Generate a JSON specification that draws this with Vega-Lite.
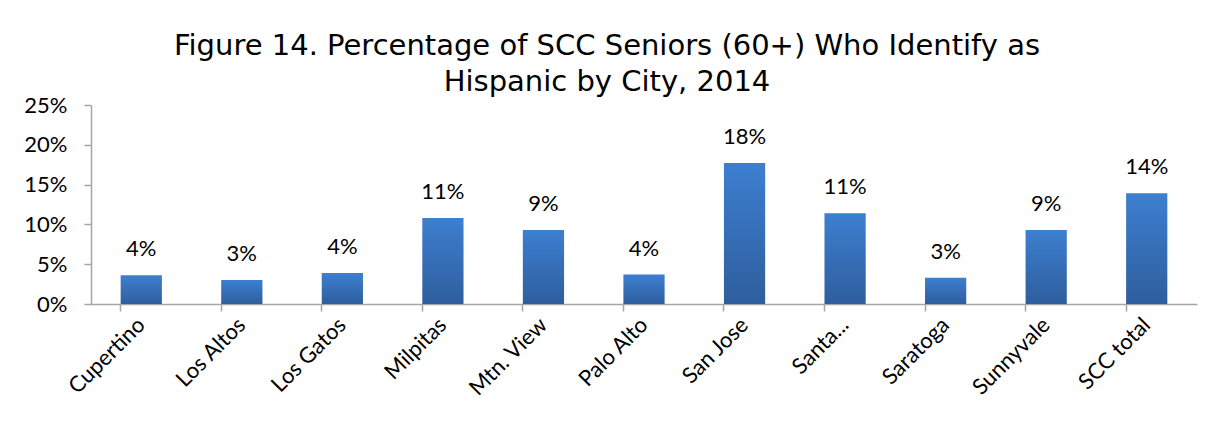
{
  "$schema": "https://vega.github.io/schema/vega-lite/v6.json",
  "autosize": "none",
  "width": 1106,
  "height": 199,
  "padding": {"left": 91, "top": 105, "right": 18, "bottom": 122},
  "background": "white",
  "title": {
    "text": ["Figure 14. Percentage of SCC Seniors (60+) Who Identify as", "Hispanic by City, 2014"],
    "font": "DejaVu Sans",
    "fontSize": 29,
    "fontWeight": "normal",
    "color": "#000000",
    "anchor": "middle",
    "frame": "group",
    "dx": -37,
    "dy": 5,
    "offset": 2,
    "lineHeight": 36
  },
  "data": {
    "values": [
      {"city": "Cupertino", "pct": 0.036},
      {"city": "Los Altos", "pct": 0.030},
      {"city": "Los Gatos", "pct": 0.039},
      {"city": "Milpitas", "pct": 0.108},
      {"city": "Mtn. View", "pct": 0.093},
      {"city": "Palo Alto", "pct": 0.037},
      {"city": "San Jose", "pct": 0.177},
      {"city": "Santa...", "pct": 0.114},
      {"city": "Saratoga", "pct": 0.033},
      {"city": "Sunnyvale", "pct": 0.093},
      {"city": "SCC total", "pct": 0.139}
    ]
  },
  "encoding": {
    "x": {
      "field": "city",
      "type": "nominal",
      "sort": null,
      "scale": {"paddingInner": 0.59, "paddingOuter": 0.295},
      "axis": {
        "title": null,
        "labelAngle": -45,
        "labelAlign": "right",
        "labelBaseline": "middle",
        "labelFont": "Lato",
        "labelFontSize": 22,
        "labelColor": "#000000",
        "labelPadding": 10,
        "bandPosition": 0,
        "tickSize": 7,
        "tickColor": "#a6a6a6",
        "domainColor": "#a6a6a6",
        "tickWidth": 1.5,
        "domainWidth": 1.5,
        "grid": false
      }
    },
    "y": {
      "field": "pct",
      "type": "quantitative",
      "scale": {"domain": [0, 0.25]},
      "axis": {
        "title": null,
        "format": ".0%",
        "values": [0, 0.05, 0.1, 0.15, 0.2, 0.25],
        "labelFont": "Lato",
        "labelFontSize": 22,
        "labelColor": "#000000",
        "labelPadding": 17,
        "tickSize": 7,
        "tickColor": "#a6a6a6",
        "domainColor": "#a6a6a6",
        "tickWidth": 1.5,
        "domainWidth": 1.5,
        "grid": false
      }
    }
  },
  "layer": [
    {
      "mark": {
        "type": "bar",
        "color": {
          "gradient": "linear",
          "x1": 0, "y1": 0, "x2": 0, "y2": 1,
          "stops": [
            {"offset": 0, "color": "#3d7fd0"},
            {"offset": 1, "color": "#2e5e9d"}
          ]
        }
      }
    },
    {
      "mark": {
        "type": "text",
        "font": "Lato",
        "fontSize": 22,
        "color": "#000000",
        "baseline": "alphabetic",
        "dy": -19
      },
      "encoding": {
        "text": {"field": "pct", "type": "quantitative", "format": ".0%"}
      }
    }
  ],
  "config": {
    "view": {"stroke": null}
  }
}
